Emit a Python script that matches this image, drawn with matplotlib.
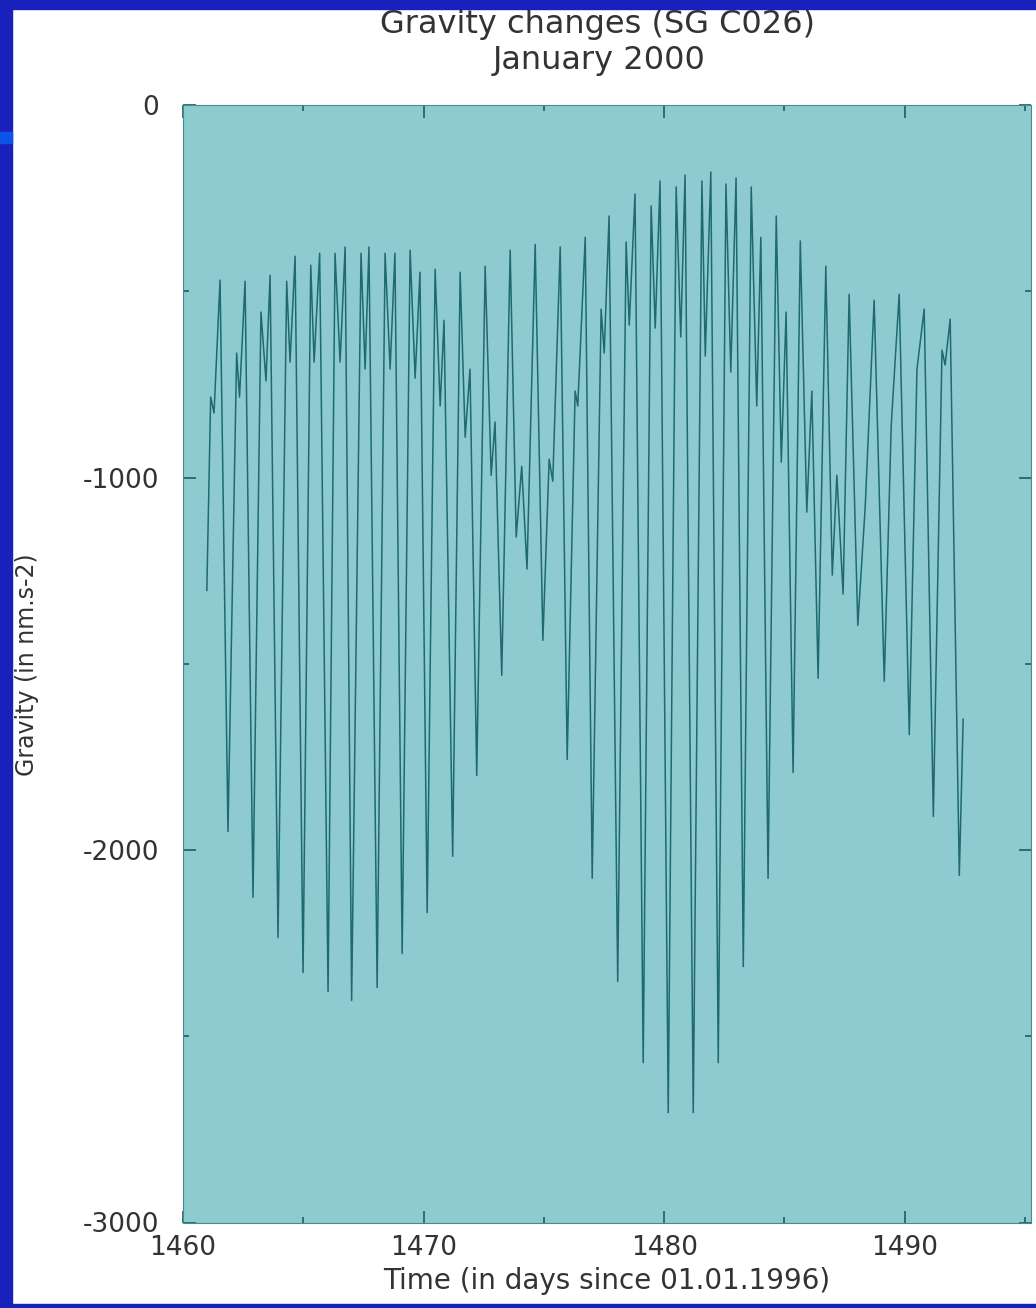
import numpy as np
import matplotlib
matplotlib.use("Agg")
import matplotlib.pyplot as plt
from matplotlib.patches import Rectangle
from matplotlib.ticker import MultipleLocator

# turning points of the gravity record
# time in days since 01.01.1996, gravity in nm.s-2
days = [1460.99, 1461.15, 1461.29, 1461.54, 1461.87, 1462.23, 1462.35, 1462.58,
        1462.91, 1463.24, 1463.45, 1463.62, 1463.95, 1464.31, 1464.45, 1464.66,
        1464.99, 1465.31, 1465.45, 1465.68, 1466.03, 1466.32, 1466.53, 1466.74,
        1467.01, 1467.40, 1467.57, 1467.73, 1468.07, 1468.40, 1468.61, 1468.81,
        1469.11, 1469.44, 1469.65, 1469.85, 1470.15, 1470.48, 1470.69, 1470.85,
        1471.21, 1471.52, 1471.73, 1471.93, 1472.21, 1472.56, 1472.81, 1472.97,
        1473.25, 1473.60, 1473.85, 1474.08, 1474.30, 1474.64, 1474.96, 1475.22,
        1475.37, 1475.68, 1475.97, 1476.30, 1476.41, 1476.72, 1477.01, 1477.38,
        1477.51, 1477.71, 1478.07, 1478.42, 1478.55, 1478.79, 1479.13, 1479.46,
        1479.63, 1479.83, 1480.17, 1480.50, 1480.69, 1480.87, 1481.21, 1481.57,
        1481.71, 1481.94, 1482.25, 1482.57, 1482.77, 1482.99, 1483.29, 1483.62,
        1483.85, 1484.02, 1484.32, 1484.66, 1484.87, 1485.07, 1485.36, 1485.66,
        1485.93, 1486.14, 1486.40, 1486.72, 1486.99, 1487.18, 1487.44, 1487.69,
        1488.05, 1488.36, 1488.73, 1489.15, 1489.44, 1489.77, 1490.19, 1490.51,
        1490.81, 1491.19, 1491.55, 1491.68, 1491.89, 1492.27, 1492.43]

gravity = [-1303, -784, -827, -470, -1950, -666, -784, -473,
           -2127, -556, -741, -457, -2235, -473, -690, -406,
           -2329, -430, -690, -398, -2380, -398, -690, -381,
           -2404, -398, -709, -381, -2369, -398, -709, -398,
           -2278, -390, -733, -449, -2168, -441, -808, -578,
           -2017, -449, -892, -709, -1800, -433, -994, -851,
           -1531, -390, -1160, -970, -1246, -374, -1437, -951,
           -1010, -381, -1757, -768, -808, -355, -2076, -548,
           -666, -298, -2353, -368, -591, -239, -2571, -271,
           -599, -204, -2705, -220, -623, -188, -2705, -204,
           -674, -180, -2571, -212, -717, -196, -2313, -220,
           -808, -355, -2076, -298, -959, -556, -1792, -365,
           -1093, -768, -1539, -433, -1262, -994, -1313, -508,
           -1397, -1077, -524, -1547, -860, -508, -1690, -709,
           -548, -1910, -658, -698, -575, -2068, -1649]

xticks = [1460, 1470, 1480, 1490]
yticks = [-3000, -2000, -1000, 0]

W, H = 1036, 1308
plt.rcParams['font.family'] = ['DejaVu Sans']
plt.rcParams['axes.unicode_minus'] = False
fig = plt.figure(figsize=(W / 100, H / 100), dpi=100, facecolor="white")

teal_bg = "#8ecbd1"
teal_line = "#1e6a6f"
txt = "#333333"

ax = fig.add_axes([183 / W, 1 - 1222.5 / H, (1031 - 183) / W, (1222.5 - 105) / H])
ax.set_facecolor(teal_bg)
ax.plot(days, gravity, color=teal_line, lw=1.1)

ax.set_xlim(1460, 1495.25)
ax.set_ylim(-3000, 0)
ax.set_xticks(xticks)
ax.set_yticks(yticks)
ax.xaxis.set_minor_locator(MultipleLocator(5))
ax.yaxis.set_minor_locator(MultipleLocator(500))
ax.tick_params(which="both", direction="in", top=True, right=True,
               color=teal_line, width=1.3, labelcolor=txt, labelsize=19)
ax.tick_params(which="major", length=9)
ax.tick_params(which="minor", length=4)
ax.tick_params(axis="x", pad=9)
ax.tick_params(axis="y", pad=17)
for s in ax.spines.values():
    s.set_color("#4a8a8e")
    s.set_linewidth(0.8)

ax.set_xlabel("Time (in days since 01.01.1996)", fontsize=20, color=txt, labelpad=4)
fig.text(27 / W, 1 - 665 / H, "Gravity (in nm.s-2)", rotation=90, fontsize=17,
         color=txt, ha="center", va="center")

fig.text(597 / W, 1 - 24 / H, "Gravity changes (SG C026)", fontsize=23,
         color=txt, ha="center", va="center")
fig.text(599 / W, 1 - 61 / H, "January 2000", fontsize=23,
         color=txt, ha="center", va="center")

# slide frame
blue = "#1a20bc"
for r in [(0, 0, 12, H), (0, 0, W, 9), (0, H - 4, W, 4)]:
    fig.add_artist(Rectangle((r[0] / W, 1 - (r[1] + r[3]) / H), r[2] / W, r[3] / H,
                             transform=fig.transFigure, color=blue, zorder=10))
fig.add_artist(Rectangle((0, 1 - 143 / H), 12 / W, 11 / H,
                         transform=fig.transFigure, color="#0a55e6", zorder=11))

fig.savefig("out.png", dpi=100, facecolor="white")
